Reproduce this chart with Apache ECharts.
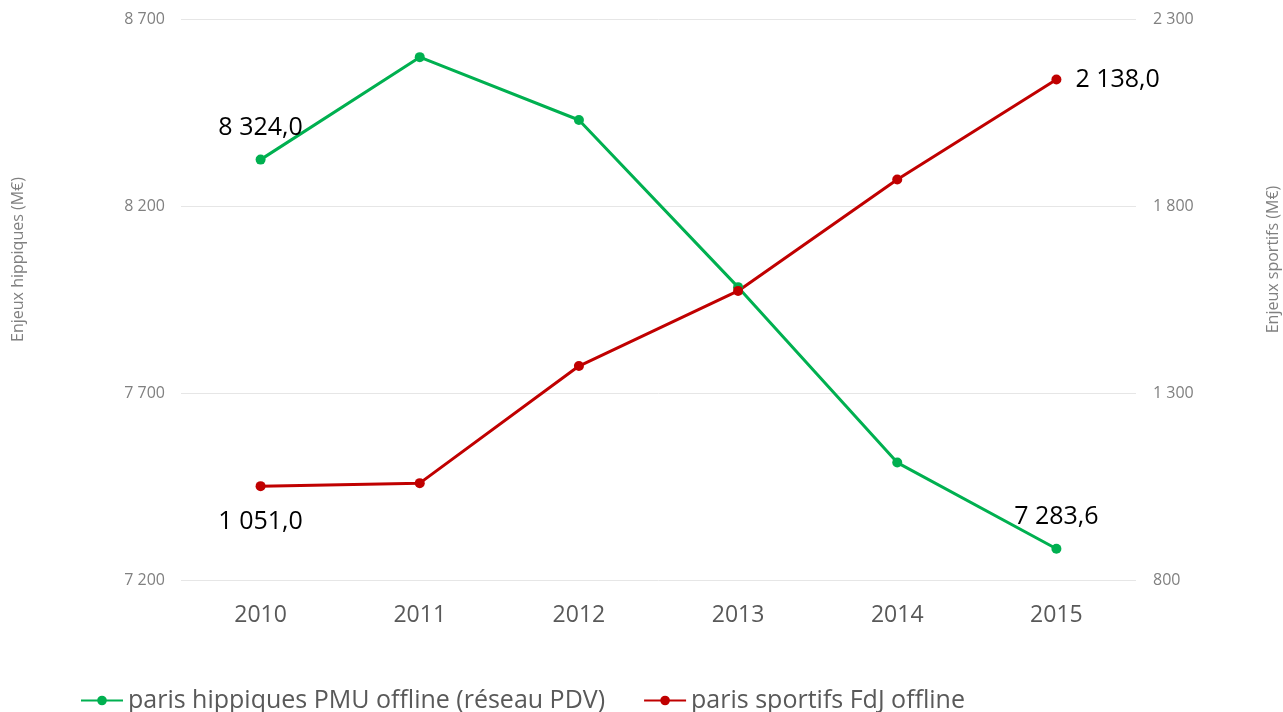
<!DOCTYPE html>
<html>
<head>
<meta charset="utf-8">
<script src="https://cdn.jsdelivr.net/npm/echarts@6/dist/echarts.min.js"></script>
<style>
html,body{margin:0;padding:0;background:#fff;}
#chart{width:1283px;height:712px;}
</style>
</head>
<body>
<div id="chart"></div>
<script>
const years = ['2010', '2011', '2012', '2013', '2014', '2015'];
const hippiques = [8324.0, 8598, 8430, 7983, 7514, 7283.6];
const sportifs = [1051.0, 1059, 1372, 1573, 1871, 2138.0];
const leftTicks = [7200, 8700, 500];
const rightTicks = [800, 2300, 500];
const seriesNames = ['paris hippiques PMU offline (réseau PDV)', 'paris sportifs FdJ offline'];
const axisNames = ['Enjeux hippiques (M€)', 'Enjeux sportifs (M€)'];

function fmtInt(v) {
  return String(Math.round(v)).replace(/\B(?=(\d{3})+(?!\d))/g, ' ');
}
function fmtDec(v) {
  const parts = v.toFixed(1).split('.');
  return parts[0].replace(/\B(?=(\d{3})+(?!\d))/g, ' ') + ',' + parts[1];
}

const labelFont = { fontFamily: 'Open Sans', fontSize: 25, color: '#000' };

function buildData(arr, firstLabel, lastLabel) {
  return arr.map((v, i) => {
    const item = { value: v };
    if (i === 0) item.label = Object.assign({ show: true }, firstLabel);
    if (i === arr.length - 1) item.label = Object.assign({ show: true }, lastLabel);
    return item;
  });
}

const chart = echarts.init(document.getElementById('chart'));
const axisLabelStyle = { fontFamily: 'Open Sans', fontSize: 16, color: '#808080' };

chart.setOption({
  animation: false,
  backgroundColor: '#fff',
  grid: { left: 181, right: 147, top: 19, bottom: 132, containLabel: false, outerBoundsMode: 'none' },
  legend: {
    left: 80,
    top: 688,
    padding: 0,
    itemWidth: 42,
    itemHeight: 12,
    itemGap: 38,
    textStyle: { fontFamily: 'Open Sans', fontSize: 25, color: '#595959' },
    data: seriesNames
  },
  xAxis: {
    type: 'category',
    data: years,
    boundaryGap: true,
    axisLine: { show: false },
    axisTick: { show: false },
    axisLabel: { fontFamily: 'Open Sans', fontSize: 23, color: '#595959', margin: 24 }
  },
  yAxis: [
    {
      type: 'value',
      min: leftTicks[0], max: leftTicks[1], interval: leftTicks[2],
      name: axisNames[0],
      nameLocation: 'middle',
      nameRotate: 90,
      nameGap: 155,
      nameTextStyle: { fontFamily: 'Open Sans', fontSize: 16, color: '#808080', padding: [0, 0, 0, 80] },
      axisLine: { show: false },
      axisTick: { show: false },
      axisLabel: Object.assign({ margin: 16, formatter: fmtInt }, axisLabelStyle),
      splitLine: { lineStyle: { color: '#e6e6e6', width: 1 } }
    },
    {
      type: 'value',
      min: rightTicks[0], max: rightTicks[1], interval: rightTicks[2],
      name: axisNames[1],
      nameLocation: 'middle',
      nameRotate: 90,
      nameGap: 129,
      nameTextStyle: { fontFamily: 'Open Sans', fontSize: 16, color: '#808080', padding: [0, 0, 0, 80] },
      axisLine: { show: false },
      axisTick: { show: false },
      axisLabel: Object.assign({ margin: 17, formatter: fmtInt }, axisLabelStyle),
      splitLine: { show: false }
    }
  ],
  series: [
    {
      name: seriesNames[0],
      type: 'line',
      yAxisIndex: 0,
      symbol: 'circle',
      symbolSize: 10,
      itemStyle: { color: '#00B050' },
      lineStyle: { color: '#00B050', width: 3 },
      label: Object.assign({ show: false, formatter: p => fmtDec(p.value) }, labelFont),
      data: buildData(hippiques,
        { position: 'top', distance: 14 },
        { position: 'top', distance: 14 })
    },
    {
      name: seriesNames[1],
      type: 'line',
      yAxisIndex: 1,
      symbol: 'circle',
      symbolSize: 10,
      itemStyle: { color: '#C00000' },
      lineStyle: { color: '#C00000', width: 3 },
      label: Object.assign({ show: false, formatter: p => fmtDec(p.value) }, labelFont),
      data: buildData(sportifs,
        { position: 'bottom', distance: 18 },
        { position: 'right', distance: 14 })
    }
  ]
});
</script>
</body>
</html>
